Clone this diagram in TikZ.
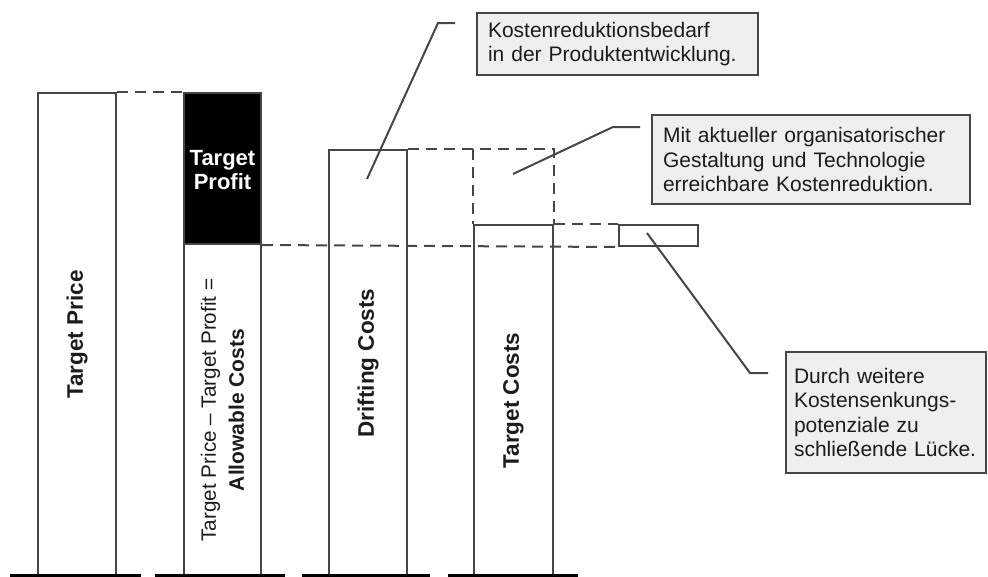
\documentclass[tikz,border=0pt]{standalone}
\usepackage{fontspec}
\setmainfont{Liberation Sans}
\definecolor{edge}{HTML}{464646}
\definecolor{boxfill}{HTML}{EFEFEF}
\definecolor{ink}{HTML}{1C1C1C}
\tikzset{
  bar/.style={draw=edge, line width=2pt, inner sep=0pt, anchor=north west},
  gapline/.style={draw=edge, line width=2pt, dash pattern=on 11pt off 7pt},
  leader/.style={draw=edge, line width=2pt},
  barlabel/.style={rotate=90, text=ink, font=\fontsize{22.5}{26}\selectfont\bfseries},
  callout/.style={draw=edge, fill=boxfill, line width=2pt, align=left,
    inner xsep=11pt, inner ysep=0pt, anchor=north west, text=ink,
    font=\fontsize{21}{24.5}\selectfont},
  ground/.style={draw=black, line width=3pt}
}
\begin{document}
\begin{tikzpicture}[x=1pt,y=-1pt]
\useasboundingbox (0,0) rectangle (988,576);

% cost bars
\node[bar, minimum width=78pt, minimum height=483pt] (tp) at (37,92) {};
\node[bar, fill=black, minimum width=77pt, minimum height=151pt] (profit) at (183,92) {};
\node[bar, minimum width=77pt, minimum height=332pt] (allow) at (183,243) {};
\node[bar, minimum width=78pt, minimum height=426pt] (drift) at (328,149) {};
\node[bar, minimum width=79pt, minimum height=351pt] (tc) at (473,224) {};
\node[bar, minimum width=79pt, minimum height=21pt] (gap) at (618,224) {};

% dashed guide lines
\draw[gapline] (tp.north east) -- (profit.north west);
\draw[gapline] (profit.south east) -- (gap.south west);
\draw[gapline] (tc.north east) -- (gap.north west);
\draw[gapline] (drift.north east) -- (tc.north east |- drift.north) -- (tc.north east);
\draw[gapline] (tc.north west |- drift.north) -- (tc.north west);

% ground segments
\coordinate (g1a) at (10,575);  \coordinate (g1b) at (141,575);
\coordinate (g2a) at (155,575); \coordinate (g2b) at (285,575);
\coordinate (g3a) at (302,575); \coordinate (g3b) at (430,575);
\coordinate (g4a) at (448,575); \coordinate (g4b) at (578,575);
\draw[ground] (g1a) -- (g1b);
\draw[ground] (g2a) -- (g2b);
\draw[ground] (g3a) -- (g3b);
\draw[ground] (g4a) -- (g4b);

% bar labels
\node[barlabel] (tpl) at (tp.center) {Target Price};
\node[text=white, align=center, font=\fontsize{22}{24}\selectfont\bfseries] (pfl) at ([yshift=-2pt]profit.center) {Target\\Profit};
\node[rotate=90, align=center, text=ink, font=\fontsize{20.7}{28}\selectfont] (all) at (allow.center)
  {Target Price – Target Profit =\\\fontsize{21}{28}\selectfont\bfseries Allowable Costs};
\node[barlabel] (drl) at (drift.center) {Drifting Costs};
\node[barlabel] (tcl) at (tc.center) {Target Costs};

% callout boxes
\node[callout, text width=259pt, minimum height=62pt] (c1) at (476,12)
  {Kostenreduktionsbedarf\\in der Produktentwicklung.};
\node[callout, text width=296pt, minimum height=89pt] (c2) at (651,114)
  {Mit aktueller organisatorischer\\Gestaltung und Technologie\\erreichbare Kostenreduktion.};
\node[callout, inner xsep=8pt, text width=184pt, minimum height=121pt] (c3) at (785,351)
  {Durch weitere\\Kostensenkungs-\\potenziale zu\\schließende Lücke.};

% leader lines
\coordinate (l1a) at (367,179); \coordinate (l1b) at (438,23); \coordinate (l1c) at (455,23);
\coordinate (l2a) at (513,174); \coordinate (l2b) at (613,127); \coordinate (l2c) at (640,127);
\coordinate (l3a) at (647,233); \coordinate (l3b) at (750,373); \coordinate (l3c) at (768,373);
\draw[leader] (l1a) -- (l1b) -- (l1c);
\draw[leader] (l2a) -- (l2b) -- (l2c);
\draw[leader] (l3a) -- (l3b) -- (l3c);
\end{tikzpicture}
\end{document}
